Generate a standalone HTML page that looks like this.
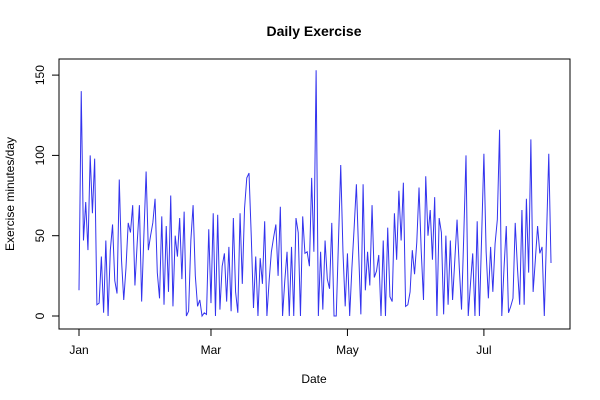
<!DOCTYPE html>
<html><head><meta charset="utf-8"><style>
body{margin:0;background:#fff;}
svg{display:block;font-family:"Liberation Sans",Arial,sans-serif;}
</style></head><body>
<svg id="chart" width="600" height="400" viewBox="0 0 600 400">
<rect x="0" y="0" width="600" height="400" fill="#fff"/>
<text x="314" y="36" text-anchor="middle" font-size="14" font-weight="bold">Daily Exercise</text>
<text x="314" y="383" text-anchor="middle" font-size="12">Date</text>
<text transform="translate(14,194) rotate(-90)" text-anchor="middle" font-size="12">Exercise minutes/day</text>
<rect x="59" y="59" width="511" height="270" fill="none" stroke="#000" stroke-width="1"/>
<g id="axes"></g>
<polyline id="series" fill="none" stroke="#3333ee" stroke-width="1"/>
</svg>
<script>
const minutes = [16,140,47,71,41,100,64,98,7,8,37,2,47,0,41,57,22,14,85,35,10,30,58,52,69,19,
45,69,9,50,90,41,50,58,73,27,11,62,7,56,15,75,6,50,37,61,23,65,0,3,47,69,
25,6,10,0,2,1,54,8,64,0,63,4,31,39,9,43,3,61,15,2,64,20,67,86,89,50,5,
37,0,36,20,59,0,22,40,49,57,25,68,0,22,40,0,43,0,61,52,0,62,39,40,31,86,40,
153,0,40,4,47,23,17,58,0,0,47,94,40,6,39,0,30,55,82,40,1,82,16,40,19,69,
24,28,38,0,47,0,55,12,9,64,35,78,47,83,6,7,15,41,26,46,80,40,10,87,50,66,35,
74,0,61,52,1,50,7,47,10,35,60,30,4,50,100,0,20,39,0,59,0,50,101,40,11,43,15,
45,60,116,0,30,56,2,6,11,58,30,7,66,7,73,27,110,15,35,56,39,43,0,50,101,33];
const xTickLabels = ["Jan","Mar","May","Jul"];
const xTickDays = [0,59,120,181];
const yTicks = [0,50,100,150];

function xScale(day){ return 79 + day*2.237; }
function yScale(v){ return 316 - v*1.606; }

const NS="http://www.w3.org/2000/svg";
const axes=document.getElementById('axes');
function mk(tag,attrs,parent){const e=document.createElementNS(NS,tag);for(const k in attrs)e.setAttribute(k,attrs[k]);parent.appendChild(e);return e;}

// x axis
const xl=mk('line',{x1:xScale(xTickDays[0]),x2:xScale(xTickDays[xTickDays.length-1]),y1:329,y2:329,stroke:'#000'},axes);


xTickDays.forEach((d,i)=>{
  const t=mk('line',{x1:xScale(d),x2:xScale(d),y1:329,y2:336,stroke:'#000'},axes);
  
  
  const l=mk('text',{x:xScale(d),y:354,'text-anchor':'middle','font-size':'12'},axes);
  l.textContent=xTickLabels[i];
  
  
});
// y axis
const yl=mk('line',{x1:59,x2:59,y1:yScale(yTicks[0]),y2:yScale(yTicks[yTicks.length-1]),stroke:'#000'},axes);


yTicks.forEach(v=>{
  const t=mk('line',{x1:52,x2:59,y1:yScale(v),y2:yScale(v),stroke:'#000'},axes);
  
  
  const l=mk('text',{transform:`translate(44,${yScale(v)}) rotate(-90)`,'text-anchor':'middle','font-size':'12'},axes);
  l.textContent=String(v);
  
  
});
// series
document.getElementById('series').setAttribute('points',minutes.map((v,i)=>xScale(i).toFixed(2)+','+yScale(v).toFixed(2)).join(' '));
</script>
</body></html>
